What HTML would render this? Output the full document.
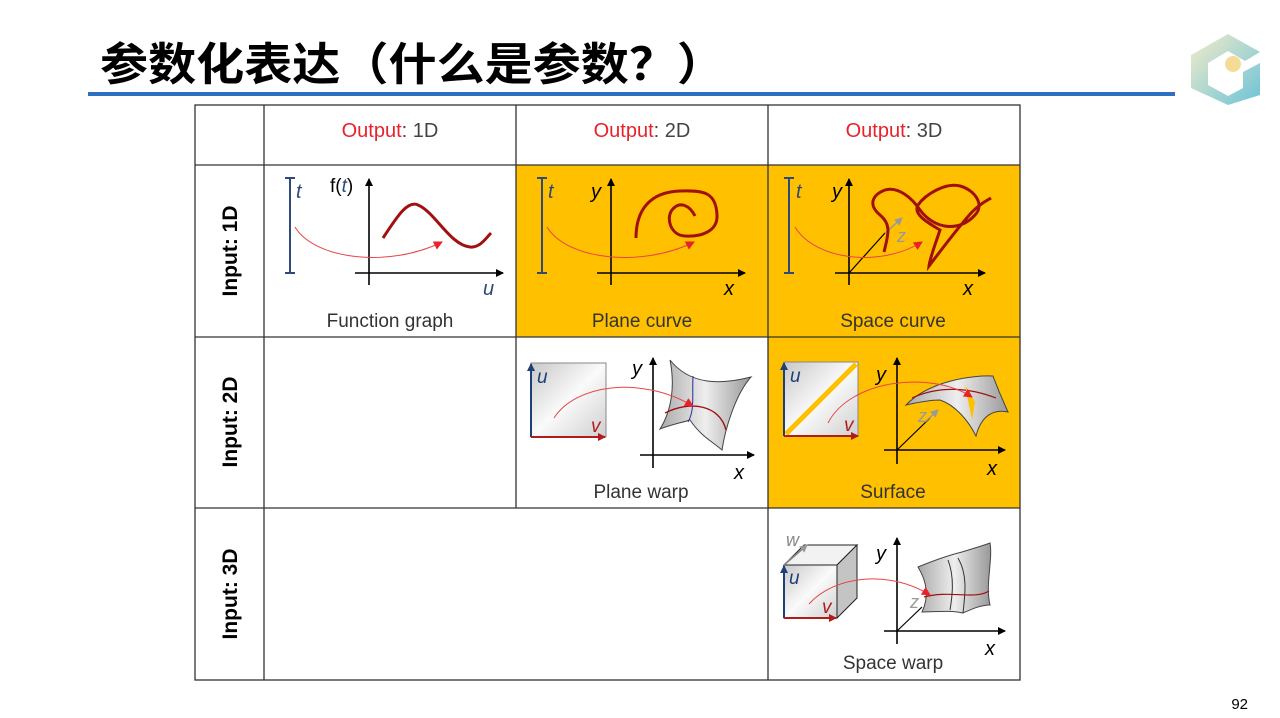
<!DOCTYPE html>
<html><head><meta charset="utf-8"><style>
html,body{margin:0;padding:0;background:#fff;}
svg{display:block;}
text{font-family:"Liberation Sans","Noto Sans CJK SC",sans-serif;}
</style></head><body>
<svg width="1280" height="718" viewBox="0 0 1280 718" xmlns="http://www.w3.org/2000/svg">
<defs>
<marker id="ak" markerWidth="8" markerHeight="8" refX="7" refY="4" orient="auto" markerUnits="userSpaceOnUse"><path d="M0,0 L8,4 L0,8 Z" fill="#000"/></marker>
<marker id="ar" markerWidth="9" markerHeight="9" refX="8" refY="4.5" orient="auto" markerUnits="userSpaceOnUse"><path d="M0,0 L9,4.5 L0,9 Z" fill="#e8222a"/></marker>
<marker id="ab" markerWidth="8" markerHeight="8" refX="7" refY="4" orient="auto" markerUnits="userSpaceOnUse"><path d="M0,0 L8,4 L0,8 Z" fill="#1f3f7a"/></marker>
<marker id="ad" markerWidth="8" markerHeight="8" refX="7" refY="4" orient="auto" markerUnits="userSpaceOnUse"><path d="M0,0 L8,4 L0,8 Z" fill="#b01c1c"/></marker>
<marker id="ag" markerWidth="8" markerHeight="8" refX="7" refY="4" orient="auto" markerUnits="userSpaceOnUse"><path d="M0,0 L8,4 L0,8 Z" fill="#999"/></marker>
<linearGradient id="sq" x1="0" y1="0" x2="1" y2="1"><stop offset="0" stop-color="#c8c8c8"/><stop offset="0.5" stop-color="#fafafa"/><stop offset="1" stop-color="#cfcfcf"/></linearGradient>
<linearGradient id="sh" x1="0" y1="0" x2="1" y2="0"><stop offset="0" stop-color="#aaa"/><stop offset="0.5" stop-color="#eee"/><stop offset="1" stop-color="#999"/></linearGradient>
<linearGradient id="lg" x1="0" y1="0" x2="1" y2="1"><stop offset="0" stop-color="#f4ecc8"/><stop offset="1" stop-color="#6cc3d8"/></linearGradient>
</defs>

<!-- Title -->
<text x="100" y="80" font-size="45" font-weight="bold" fill="#000" textLength="625" lengthAdjust="spacingAndGlyphs" style="font-family:'Noto Sans CJK SC',sans-serif">参数化表达（什么是参数？）</text>
<rect x="88" y="92" width="1087" height="4" fill="#2e6fc0"/>
<!-- logo -->
<path d="M1191,55 L1228,34 L1260,52 L1245,61 L1228,51 L1208,63 L1208,85 L1228,96 L1243,88 L1243,72 L1260,63 L1260,95 L1228,105 L1191,88 Z" fill="url(#lg)"/>
<circle cx="1233" cy="64" r="8" fill="#f4dc96"/>

<!-- orange cells -->
<rect x="516" y="165" width="504" height="172" fill="#ffc000"/>
<rect x="768" y="337" width="252" height="171" fill="#ffc000"/>

<!-- grid -->
<g stroke="#333" stroke-width="1.3" fill="none">
<rect x="195" y="105" width="825" height="575"/>
<line x1="264" y1="105" x2="264" y2="680"/>
<line x1="516" y1="105" x2="516" y2="508"/>
<line x1="768" y1="105" x2="768" y2="680"/>
<line x1="195" y1="165" x2="1020" y2="165"/>
<line x1="195" y1="337" x2="1020" y2="337"/>
<line x1="195" y1="508" x2="1020" y2="508"/>
</g>

<!-- headers -->
<g font-size="20" text-anchor="middle">
<text x="390" y="137"><tspan fill="#e8222a">Output</tspan><tspan fill="#444">: 1D</tspan></text>
<text x="642" y="137"><tspan fill="#e8222a">Output</tspan><tspan fill="#444">: 2D</tspan></text>
<text x="894" y="137"><tspan fill="#e8222a">Output</tspan><tspan fill="#444">: 3D</tspan></text>
</g>
<g font-size="21" font-weight="bold" text-anchor="middle" fill="#000">
<text transform="translate(237,251) rotate(-90)">Input: 1D</text>
<text transform="translate(237,422) rotate(-90)">Input: 2D</text>
<text transform="translate(237,594) rotate(-90)">Input: 3D</text>
</g>

<!-- Cell labels -->
<g font-size="19" text-anchor="middle" fill="#333">
<text x="390" y="327">Function graph</text>
<text x="642" y="327">Plane curve</text>
<text x="893" y="327">Space curve</text>
<text x="641" y="498">Plane warp</text>
<text x="893" y="498">Surface</text>
<text x="893" y="669">Space warp</text>
</g>

<!-- Function graph -->
<g>
<path d="M285,178 H295 M290,178 V273 M285,273 H295" stroke="#2f4a7a" stroke-width="2" fill="none"/>
<text x="296" y="198" font-size="20" font-style="italic" fill="#2f4a7a">t</text>
<text x="330" y="192" font-size="19" fill="#000">f(<tspan fill="#2f4a7a" font-style="italic">t</tspan>)</text>
<line x1="369" y1="285" x2="369" y2="179" stroke="#000" stroke-width="1.6" marker-end="url(#ak)"/>
<line x1="355" y1="273" x2="503" y2="273" stroke="#000" stroke-width="1.6" marker-end="url(#ak)"/>
<text x="483" y="295" font-size="20" font-style="italic" fill="#2f4a7a">u</text>
<path d="M383,238 C398,215 408,200 418,205 C435,212 450,245 470,247 C480,248 486,238 491,233" stroke="#a01010" stroke-width="3" fill="none"/>
<path d="M295,227 C315,260 390,268 442,242" stroke="#e8444a" stroke-width="1" fill="none" marker-end="url(#ar)"/>
</g>

<!-- Plane curve -->
<g>
<path d="M537,178 H547 M542,178 V273 M537,273 H547" stroke="#2f4a7a" stroke-width="2" fill="none"/>
<text x="548" y="198" font-size="20" font-style="italic" fill="#2f4a7a">t</text>
<text x="591" y="198" font-size="20" font-style="italic" fill="#000">y</text>
<line x1="611" y1="285" x2="611" y2="179" stroke="#000" stroke-width="1.6" marker-end="url(#ak)"/>
<line x1="597" y1="273" x2="745" y2="273" stroke="#000" stroke-width="1.6" marker-end="url(#ak)"/>
<text x="724" y="295" font-size="20" font-style="italic" fill="#000">x</text>
<path d="M636,238 C636,210 650,192 680,191 C705,190 716,193 717,215 C718,232 700,237 685,236 C670,235 666,218 672,210 C680,200 690,206 695,216" stroke="#a01010" stroke-width="3" fill="none"/>
<path d="M547,227 C567,260 642,268 694,242" stroke="#e8444a" stroke-width="1" fill="none" marker-end="url(#ar)"/>
</g>

<!-- Space curve -->
<g>
<path d="M784,178 H794 M789,178 V273 M784,273 H794" stroke="#2f4a7a" stroke-width="2" fill="none"/>
<text x="796" y="198" font-size="20" font-style="italic" fill="#2f4a7a">t</text>
<text x="832" y="198" font-size="20" font-style="italic" fill="#000">y</text>
<line x1="849" y1="285" x2="849" y2="179" stroke="#000" stroke-width="1.6" marker-end="url(#ak)"/>
<line x1="835" y1="273" x2="985" y2="273" stroke="#000" stroke-width="1.6" marker-end="url(#ak)"/>
<line x1="849" y1="273" x2="885" y2="233" stroke="#000" stroke-width="1.2"/>
<line x1="885" y1="233" x2="902" y2="218" stroke="#999" stroke-width="1.5" marker-end="url(#ag)"/>
<text x="897" y="242" font-size="18" font-style="italic" fill="#999">z</text>
<text x="963" y="295" font-size="20" font-style="italic" fill="#000">x</text>
<path d="M884,252 C888,235 892,225 880,215 C868,205 872,195 885,190 C898,186 912,198 920,210 C935,230 960,232 975,215 C985,205 975,190 960,186 C945,182 925,195 918,205 C912,215 932,225 940,230 C935,245 930,258 929,266 C945,245 960,225 972,212 C982,202 988,200 991,198" stroke="#a01010" stroke-width="3" fill="none"/>
<path d="M795,227 C815,260 880,268 922,242" stroke="#e8444a" stroke-width="1" fill="none" marker-end="url(#ar)"/>
</g>

<!-- Plane warp -->
<g>
<rect x="531" y="363" width="75" height="74" fill="url(#sq)" stroke="#888" stroke-width="1"/>
<line x1="531" y1="437" x2="531" y2="364" stroke="#1f3f7a" stroke-width="2" marker-end="url(#ab)"/>
<line x1="531" y1="437" x2="605" y2="437" stroke="#b01c1c" stroke-width="2" marker-end="url(#ad)"/>
<text x="537" y="383" font-size="19" font-style="italic" fill="#1f3f7a">u</text>
<text x="591" y="432" font-size="19" font-style="italic" fill="#b01c1c">v</text>
<text x="632" y="375" font-size="20" font-style="italic" fill="#000">y</text>
<line x1="653" y1="468" x2="653" y2="358" stroke="#000" stroke-width="1.6" marker-end="url(#ak)"/>
<line x1="640" y1="455" x2="754" y2="455" stroke="#000" stroke-width="1.6" marker-end="url(#ak)"/>
<text x="734" y="479" font-size="20" font-style="italic" fill="#000">x</text>
<path d="M670,360 C690,385 720,385 751,377 C735,395 725,430 722,450 C710,440 700,435 690,420 C680,423 670,425 660,429 C672,410 675,385 670,360 Z" fill="url(#sh)" stroke="#444" stroke-width="1"/>
<path d="M665,413 C690,400 720,405 726,430" stroke="#a01010" stroke-width="1.4" fill="none"/>
<path d="M693,376 C692,395 695,410 688,422" stroke="#2b2b9a" stroke-width="1" fill="none"/>
<path d="M554,418 C575,385 640,375 693,406" stroke="#e8444a" stroke-width="1" fill="none" marker-end="url(#ar)"/>
</g>

<!-- Surface -->
<g>
<rect x="784" y="362" width="74" height="74" fill="url(#sq)" stroke="#888" stroke-width="1"/>
<line x1="786" y1="434" x2="856" y2="364" stroke="#ffc000" stroke-width="5"/>
<line x1="784" y1="436" x2="784" y2="363" stroke="#1f3f7a" stroke-width="2" marker-end="url(#ab)"/>
<line x1="784" y1="436" x2="858" y2="436" stroke="#b01c1c" stroke-width="2" marker-end="url(#ad)"/>
<text x="790" y="382" font-size="19" font-style="italic" fill="#1f3f7a">u</text>
<text x="844" y="431" font-size="19" font-style="italic" fill="#b01c1c">v</text>
<text x="876" y="381" font-size="20" font-style="italic" fill="#000">y</text>
<line x1="897" y1="464" x2="897" y2="358" stroke="#000" stroke-width="1.6" marker-end="url(#ak)"/>
<line x1="884" y1="450" x2="1005" y2="450" stroke="#000" stroke-width="1.6" marker-end="url(#ak)"/>
<text x="987" y="475" font-size="20" font-style="italic" fill="#000">x</text>
<line x1="897" y1="450" x2="930" y2="418" stroke="#000" stroke-width="1.2"/>
<line x1="925" y1="422" x2="938" y2="410" stroke="#999" stroke-width="1.5" marker-end="url(#ag)"/>
<text x="918" y="422" font-size="18" font-style="italic" fill="#999">z</text>
<path d="M906,405 C930,380 975,375 993,376 C1000,395 1005,405 1008,412 C990,408 980,420 976,436 C968,420 955,405 940,400 C928,400 915,403 906,405 Z" fill="url(#sh)" stroke="#444" stroke-width="1"/>
<path d="M912,398 C940,385 970,388 996,398" stroke="#a01010" stroke-width="1.2" fill="none"/>
<path d="M965,385 L972,420 L975,402 Z" fill="#ffc000"/>
<path d="M828,423 C850,380 930,370 972,397" stroke="#e8444a" stroke-width="1" fill="none" marker-end="url(#ar)"/>
</g>

<!-- Space warp -->
<g>
<path d="M784,565 L804,545 L857,545 L837,565 Z" fill="#f2f2f2" stroke="#222" stroke-width="1"/>
<path d="M837,565 L857,545 L857,598 L837,618 Z" fill="#c4c4c4" stroke="#222" stroke-width="1"/>
<rect x="784" y="565" width="53" height="53" fill="url(#sq)" stroke="#222" stroke-width="1"/>
<line x1="784" y1="618" x2="784" y2="566" stroke="#1f3f7a" stroke-width="2" marker-end="url(#ab)"/>
<line x1="784" y1="618" x2="836" y2="618" stroke="#b01c1c" stroke-width="2" marker-end="url(#ad)"/>
<line x1="784" y1="565" x2="807" y2="545" stroke="#888" stroke-width="1.8" marker-end="url(#ag)"/>
<text x="786" y="546" font-size="18" font-style="italic" fill="#888">w</text>
<text x="789" y="584" font-size="19" font-style="italic" fill="#1f3f7a">u</text>
<text x="822" y="613" font-size="19" font-style="italic" fill="#b01c1c">v</text>
<text x="876" y="560" font-size="20" font-style="italic" fill="#000">y</text>
<line x1="897" y1="644" x2="897" y2="538" stroke="#000" stroke-width="1.6" marker-end="url(#ak)"/>
<line x1="884" y1="631" x2="1005" y2="631" stroke="#000" stroke-width="1.6" marker-end="url(#ak)"/>
<text x="985" y="655" font-size="20" font-style="italic" fill="#000">x</text>
<line x1="897" y1="631" x2="922" y2="607" stroke="#000" stroke-width="1.2"/>
<text x="910" y="608" font-size="18" font-style="italic" fill="#999">z</text>
<path d="M918,567 C935,560 950,555 962,552 C975,548 985,545 990,543 C993,560 985,585 990,605 C980,605 970,610 963,613 C950,610 935,612 922,612 C930,595 926,580 918,567 Z" fill="url(#sh)" stroke="#444" stroke-width="1"/>
<path d="M958,558 C968,575 965,595 963,613 M948,560 C955,578 952,598 950,610" stroke="#333" stroke-width="1" fill="none"/>
<path d="M924,597 C950,590 975,600 989,591" stroke="#a01010" stroke-width="1.2" fill="none"/>
<path d="M809,604 C835,575 890,570 930,595" stroke="#e8444a" stroke-width="1" fill="none" marker-end="url(#ar)"/>
</g>

<text x="1248" y="709" font-size="15" text-anchor="end" fill="#000">92</text>
</svg>
</body></html>
